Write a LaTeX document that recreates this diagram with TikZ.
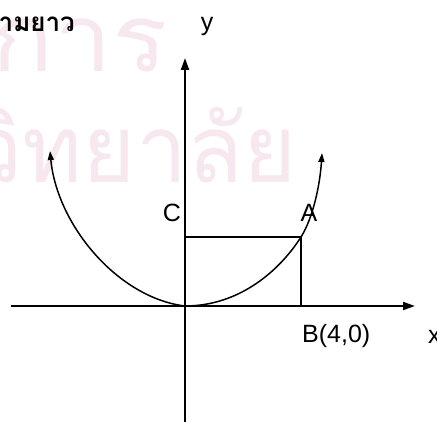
\documentclass[tikz,border=0pt]{standalone}
\usepackage{fontspec}
\setmainfont{Liberation Sans}
\newfontfamily\thaifont[Script=Thai]{Loma}
\usetikzlibrary{arrows.meta}
\definecolor{wmpink}{RGB}{247,232,240}
\begin{document}
\begin{tikzpicture}[x=1pt,y=-1pt,
  axisline/.style={line width=2pt,-{Triangle[length=12pt,width=8pt]}},
  boxline/.style={line width=2pt},
  curveline/.style={line width=1.5pt,{Triangle[length=9pt,width=6pt]}-{Triangle[length=9pt,width=6pt]}},
  lbl/.style={font=\fontsize{25}{25}\selectfont,inner sep=0pt},
  wmtext/.style={text=wmpink,font=\thaifont\fontsize{94}{94}\selectfont,inner sep=0pt},
  titletext/.style={font=\thaifont\bfseries\fontsize{26}{26}\selectfont,inner sep=0pt}]
\useasboundingbox (0,0) rectangle (437,422);
\begin{scope}
\clip (0,0) rectangle (437,422);
\node[wmtext,anchor=base east,xscale=1.1] (wm1) at (168,72) {บริการ};
\node[wmtext,anchor=base east,xscale=0.97] (wm2) at (297,183) {วิทยาลัย};
\node[titletext,anchor=base east] (title) at (75,32) {ความยาว};
\node[lbl,anchor=base west] (xlbl) at (428,344) {x};
\end{scope}
% axes
\coordinate (O) at (185,306);
\coordinate (ybot) at (185,430);
\coordinate (ytop) at (185,58);
\coordinate (xleft) at (11,306);
\coordinate (xright) at (415,306);
\coordinate (B) at (301,306);
\coordinate (A) at (301,237);
\coordinate (Cc) at (185,237);
\coordinate (Lend) at (50,151);
\coordinate (Rend) at (322,153);
\draw[axisline] (ybot) -- (ytop);
\draw[axisline] (xleft) -- (xright);
\draw[boxline] (Cc) -- (A) -- (B);
\draw[curveline] (Lend) .. controls (57,225) and (118,298) .. (O)
  .. controls (240,306) and (280,270) .. (A)
  .. controls (313,218) and (320,185) .. (Rend);
% labels
\node[lbl,anchor=base] (ylbl) at (207,31) {y};
\node[lbl,anchor=base] (Clbl) at (172,222) {C};
\node[lbl,anchor=base] (Albl) at (309,222) {A};
\node[lbl,anchor=base west] (Blbl) at (302,343) {B(4,0)};
\end{tikzpicture}
\end{document}
